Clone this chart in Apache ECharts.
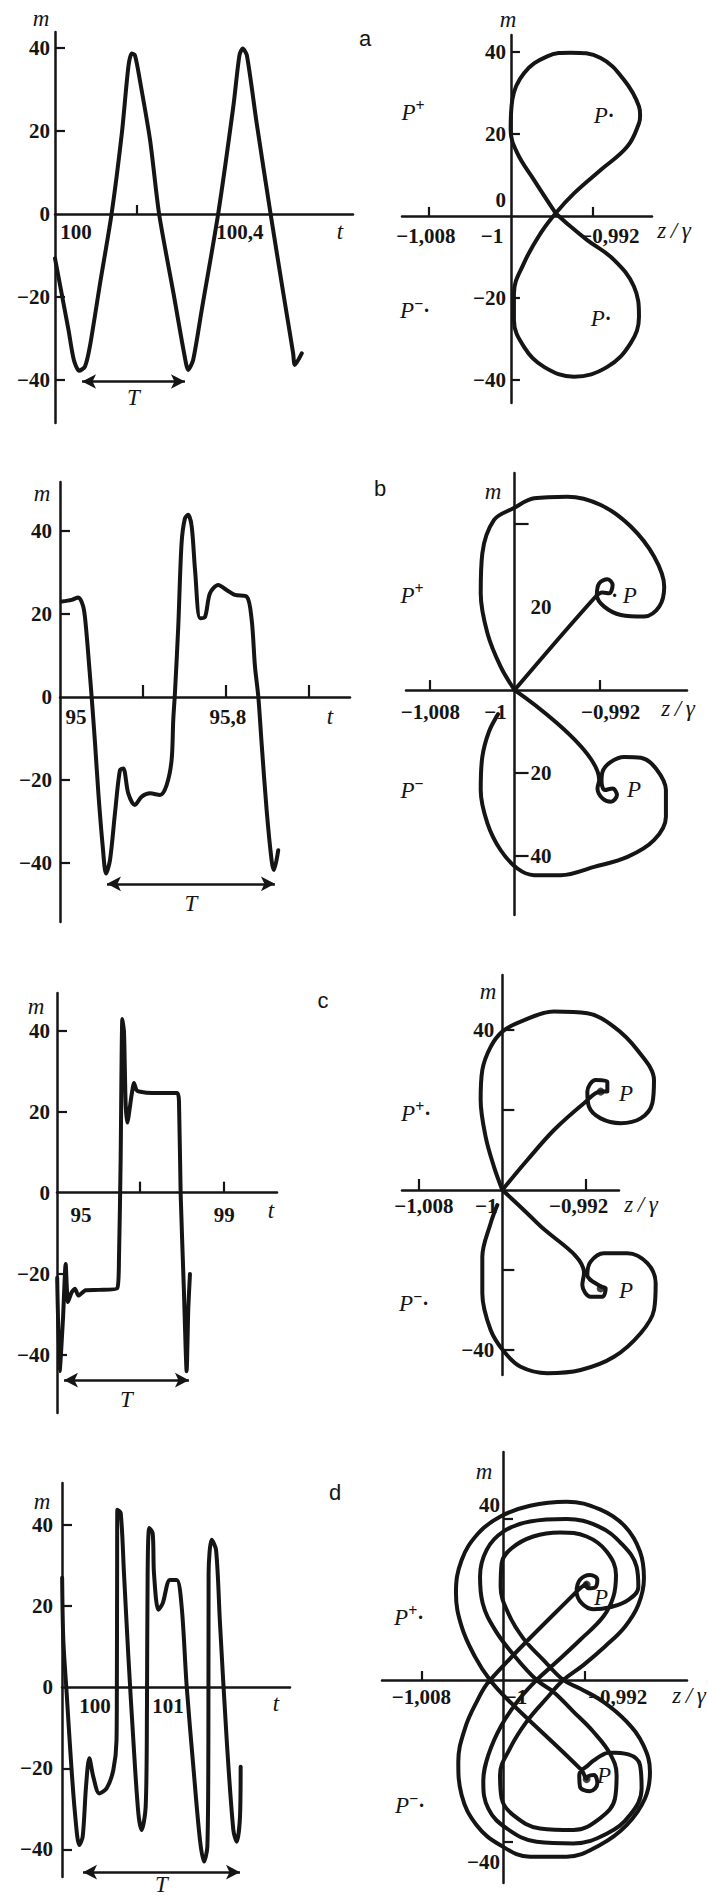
<!DOCTYPE html>
<html>
<head>
<meta charset="utf-8">
<title>m(t) and phase portraits m(z/γ)</title>
<script src="https://cdn.jsdelivr.net/npm/echarts@6.0.0/dist/echarts.min.js"></script>
<style>
html,body{margin:0;padding:0;background:#ffffff;}
#chart{width:708px;height:1896px;}
</style>
</head>
<body>
<div id="chart"></div>
<script>
// ================= DATA =================
// ---- panel a : m(t) ----
const tA = [100.000,100.016,100.033,100.046,100.059,100.073,100.085,100.110,100.138,100.163,100.179,100.187,100.195,100.207,100.232,100.254,100.289,100.315,100.325,100.337,100.358,100.398,100.435,100.450,100.458,100.468,100.492,100.526,100.557,100.581,100.585,100.602];
const mA = [-10.7,-19.1,-28.0,-35.2,-37.8,-36.8,-32.0,-16.7,0,19.4,35.5,38.7,38.3,32.3,17.8,0,-19.1,-33.6,-37.6,-35.2,-23.1,0,25.9,38.3,39.9,38.3,21.9,0,-19.1,-33.6,-36.4,-33.6];
// ---- panel a : m(z/γ) ----
const zAp = [-0.99564,-0.99776,-0.99938,-1.00003,-0.99987,-0.99873,-0.99646,-0.99418,-0.99125,-0.98898,-0.98751,-0.9874,-0.98751,-0.98865,-0.99125,-0.99385,-0.99564,-0.9971,-0.99873,-0.99971,-0.99971,-0.99873,-0.99678,-0.99385,-0.9906,-0.98832,-0.98751,-0.988,-0.98995,-0.99256,-0.99418,-0.99564];
const mAp = [0.66,8.8,15.3,21.0,28.3,34.8,38.9,39.8,38.5,33.2,26.7,24.5,22.6,16.9,11.2,5.5,0.66,-4.2,-11.5,-18.9,-25.4,-31.9,-36.8,-39.2,-36.8,-31.0,-24.6,-17.2,-10.7,-5.9,-2.6,0.66];

// ---- panel b : m(t) ----
const tB = [95.008,95.056,95.088,95.112,95.125,95.141,95.153,95.169,95.185,95.206,95.222,95.241,95.265,95.289,95.305,95.329,95.361,95.394,95.434,95.482,95.514,95.538,95.546,95.554,95.570,95.586,95.602,95.618,95.635,95.651,95.675,95.699,95.723,95.763,95.803,95.843,95.900,95.924,95.940,95.956,95.972,95.996,96.020,96.031,96.052];
const mB = [23,23.4,24,21.8,16.9,7.3,-0.3,-11.2,-23.2,-36,-42.5,-39.3,-28,-17.6,-17.2,-23.2,-26,-24,-23.2,-23.6,-21.2,-15.2,-5.5,0.9,16.9,37,43,43.9,41,30.6,19,19.3,25,27,25.8,24.6,24.2,18.6,7.3,0.1,-11.2,-27.2,-39.3,-41.7,-36.9];
// ---- panel b : m(z/γ), upper and lower branch ----
const zBup = [-1,-1.0013,-1.00255,-1.00318,-1.00303,-1.00193,-1.00011,-0.99817,-0.99503,-0.9919,-0.98908,-0.98688,-0.98594,-0.98641,-0.98782,-0.99001,-0.99158,-0.99227,-0.99205,-0.99127,-0.99079,-0.99111,-0.99174,-0.99246,-1];
const mBup = [0,5.6,13.7,23.3,32.9,41.0,43.8,46.2,46.6,44.6,39.4,32.1,24.9,20.1,17.7,18.1,20.1,22.9,25.7,26.7,25.3,23.3,23.5,22.3,0];
const zBdn = [-1,-0.99205,-0.99221,-0.99174,-0.99095,-0.99038,-0.99079,-0.99151,-0.99183,-0.99174,-0.99095,-0.9897,-0.98813,-0.98672,-0.98578,-0.98578,-0.98688,-0.98939,-0.99252,-0.99566,-0.99817,-0.99973,-1.0013,-1.00255,-1.00318,-1.00303,-1.0024,-1.00155];
const mBdn = [0,-21.7,-23.7,-26.1,-26.9,-25.3,-23.7,-24.1,-22.1,-19.7,-17.3,-16.1,-16.3,-18.9,-24.1,-30.5,-36.1,-40.2,-42.6,-44.6,-44.6,-43.0,-38.6,-32.1,-24.1,-16.1,-10.0,-5.8];

// ---- panel c : m(t) ----
const tC = [95.004,95.064,95.144,95.208,95.264,95.353,95.433,95.513,95.689,96.010,96.450,96.490,96.530,96.571,96.611,96.651,96.691,96.795,96.851,96.907,96.971,97.292,97.893,97.933,97.973,98.053,98.117,98.157,98.197];
const mC = [-21.0,-44.1,-31.1,-17.6,-27.0,-24.6,-23.7,-25.4,-24.1,-24.0,-23.6,-16.4,8.0,42.9,39.7,21.8,17.3,24.2,27.1,25.4,25.0,24.6,24.6,22.6,-0.2,-24.6,-44.1,-28.6,-20.1];
// ---- panel c : m(z/γ), upper and lower branch ----
const zCup = [-1,-1.0008,-1.0016,-1.00208,-1.00192,-1.00112,-1,-0.99824,-0.99504,-0.99184,-0.98928,-0.98704,-0.98544,-0.9856,-0.98672,-0.98864,-0.99056,-0.99168,-0.99184,-0.99104,-0.98992,-0.98992,-0.99056,-0.99216,-0.99504,-0.9976,-1];
const mCup = [0,5.8,13.3,22.5,30,35.8,39.6,42.1,44.6,44.2,40.8,35,27.5,21.7,17.9,16.7,17.9,20.8,24.6,27.5,27.1,24.6,24.6,21.7,15,7.5,0];
const zCdn = [-1,-0.99664,-0.99216,-0.99232,-0.99152,-0.9904,-0.99008,-0.99056,-0.99184,-0.99152,-0.99024,-0.988,-0.98608,-0.98528,-0.98544,-0.98672,-0.98928,-0.99248,-0.99568,-0.99824,-0.99984,-1.00112,-1.00192,-1.00192,-1.00112,-1.00048];
const mCdn = [0,-8.3,-20.8,-23.75,-26.7,-26.7,-24.6,-24.1,-21.25,-17.9,-15.8,-15.8,-18.3,-23.3,-30,-35.8,-41.7,-45,-45.8,-44.2,-40.4,-35,-25.8,-16.7,-8.3,-3.75];
// fixed points P (spiral centres) of panel c
const zFixC = [-0.99056, -0.99056];
const mFixC = [24.6, -24.6];

// ---- panel d : m(t) ----
const tD = [99.550,99.566,99.612,99.667,99.726,99.785,99.831,99.877,99.922,99.977,100.059,100.160,100.251,100.295,100.300,100.303,100.306,100.352,100.397,100.457,100.525,100.594,100.639,100.694,100.712,100.721,100.744,100.790,100.808,100.868,100.927,101.027,101.119,101.187,101.256,101.347,101.438,101.493,101.539,101.553,101.556,101.598,101.658,101.712,101.804,101.895,101.941,101.986,101.995];
const mD = [27.0,11.7,-1.5,-17.1,-31.1,-38.9,-36.9,-24.5,-17.5,-22.1,-26.2,-24.9,-20.4,-13.0,3.5,28.1,43.8,43.0,28.1,7.6,-13.0,-31.1,-35.2,-29.5,-4.8,28.1,39.3,38.0,28.1,19.1,20.7,26.5,26.5,19.9,0.2,-19.6,-37.7,-43.0,-39.3,-13.0,28.1,36.4,33.9,15.8,-13.0,-35.2,-38.1,-31.9,-19.6];
// ---- panel d : m(z/γ) ----
const zDp = [-0.99186,-0.99261,-1.00127,-1.00258,-1.00373,-1.00438,-1.00405,-1.00258,-1.00029,-0.99735,
 -0.99376,-0.99049,-0.98788,-0.98608,-0.98559,-0.98624,-0.98788,-0.99016,-0.99245,-0.99408,
 -0.99605,-0.99801,-0.99948,-1.00023,-1.00013,-0.99915,-0.99703,-0.99441,-0.9918,-0.98984,
 -0.98892,-0.98918,-0.99016,-0.99245,-0.99474,-0.9967,-0.99833,-1.00013,-1.00144,-1.00193,
 -1.00144,-0.99964,-0.9967,-0.9931,-0.98984,-0.98755,-0.98641,-0.98657,-0.98771,-0.98951,
 -0.99082,-0.99163,-0.99252,-0.99245,-0.99147,-0.99075,-0.99108,-0.99173,-0.9918,-0.99229,
 -0.99948,-1.00127,-1.00275,-1.00405,-1.00461,-1.00405,-1.00242,-1.00029,-0.99735,-0.99376,
 -0.99049,-0.98804,-0.98657,-0.98618,-0.98673,-0.98804,-0.99,-0.99212,-0.99408,-0.99572,
 -0.99768,-0.99931,-1.00029,-1.00013,-0.99899,-0.99637,-0.9931,-0.99049,-0.98902,-0.98886,
 -0.98951,-0.99114,-0.9931,-0.99507,-0.9967,-0.99882,-1.00078,-1.00199,-1.00225,-1.0016,
 -0.99997,-0.99735,-0.99376,-0.99065,-0.98837,-0.9869,-0.98673,-0.98771,-0.98951,-0.99114,
 -0.99229,-0.99278,-0.99245,-0.99147,-0.99075,-0.99098,-0.99163,-0.99186];
const mDp = [23.8,22.3,0,-5.4,-12.0,-20.2,-28.5,-35.9,-40.8,-43.7,
 -43.7,-40.8,-35.9,-29.3,-22.7,-16.1,-10.3,-5.4,-2.1,0,
 5.0,10.3,16.5,23.1,28.9,32.6,35.5,36.5,35.5,31.8,
 26.0,20.6,15.7,9.9,4.5,0,-4.5,-11.1,-18.6,-25.2,
 -31.8,-36.7,-40.0,-40.4,-38.0,-33.4,-26.8,-21.0,-18.4,-17.9,
 -19.4,-21.0,-23.5,-26.4,-27.5,-25.6,-23.5,-23.9,-24.5,-22.3,
 -5.0,0,5.8,13.2,21.5,29.7,36.3,40.4,43.1,44.1,
 42.2,38.0,31.8,25.2,18.6,13.2,8.3,3.7,0,-4.5,
 -10.3,-16.9,-23.5,-29.3,-33.4,-36.7,-37.1,-34.2,-29.3,-23.5,
 -18.2,-12.8,-7.8,-2.9,0,5.8,12.4,19.0,25.6,32.2,
 36.7,39.2,39.8,38.0,33.7,28.0,23.1,19.8,18.0,17.5,
 19.0,21.9,24.8,26.0,24.8,22.9,22.7,23.8];
// fixed points P (spiral centres) of panel d
const zFixD = [-0.9918, -0.9918];
const mFixD = [23.6, -24.5];

// ---- period arrows T : [t start, t end] and the m level ----
const periodA = [100.066, 100.317], periodLevelA = -40.4;
const periodB = [95.2265, 96.036],  periodLevelB = -45.0;
const periodC = [95.168, 98.173],   periodLevelC = -46.3;
const periodD = [99.836, 101.986],  periodLevelD = -45.6;

// ---- tick and label values ----
const tTicksA = [100.2, 100.4], tLabelsA = [100, 100.4];
const tTicksB = [95.4, 95.8, 96.2], tLabelsB = [95, 95.8];
const tTicksC = [97, 99], tLabelsC = [95, 99];
const tTicksD = [], tLabelsD = [100, 101];
const mTicks = [-40, -20, 20, 40];
const mLabels = [-40, -20, 0, 20, 40];
const zTicks = [-1.008, -0.992];
const zLabels = [-1.008, -1, -0.992];

// ================= CHART =================
const INK = '#151515';
const SERIF = '"Liberation Serif", "Times New Roman", Times, serif';
const SANS = '"Liberation Sans", Arial, Helvetica, sans-serif';
const NUM_SIZE = 21, NUM_WEIGHT = 'bold';

function pairs(xs, ys) { return xs.map((x, i) => [x, ys[i]]); }
// phase panels: horizontal coordinate = (z/γ + 1)·10³, labelled back in z/γ
function toX(z) { return Math.round((z + 1) * 1e6) / 1e3; }
function phasePairs(zs, ms) { return zs.map((z, i) => [toX(z), ms[i]]); }
function fmtNum(v) { return (v < 0 ? '\u2212' : '') + String(Math.abs(v)).replace('.', ','); }
function fmtZ(v) {
  const z = Math.round((-1 + v / 1000) * 1e6) / 1e6;
  if (Math.abs(z + 1) < 1e-9) return '\u22121';
  return '\u2212' + Math.abs(z).toFixed(3).replace('.', ',');
}

function labelCfg(values, textFn, shifts, base) {
  const rich = {};
  values.forEach((v, i) => {
    const s = shifts[i] || [0, 0];
    const dx = s[0], dy = s[1];
    rich['k' + i] = {
      fontFamily: SERIF, fontSize: NUM_SIZE, fontWeight: NUM_WEIGHT, color: INK,
      padding: [dy > 0 ? 2 * dy : 0, dx < 0 ? -2 * dx : 0, dy < 0 ? -2 * dy : 0, dx > 0 ? 2 * dx : 0]
    };
  });
  return Object.assign({
    customValues: values,
    formatter: function (v) {
      let i = values.findIndex(u => Math.abs(u - v) < 1e-6);
      if (i < 0) i = 0;
      return '{k' + i + '|' + textFn(v) + '}';
    },
    rich: rich, color: INK, fontFamily: SERIF, fontSize: NUM_SIZE, fontWeight: NUM_WEIGHT
  }, base || {});
}

function axisCommon(gi, min, max, tickVals, tickLen, label) {
  return {
    gridIndex: gi, type: 'value', min: min, max: max,
    axisLine: { show: true, onZero: false, lineStyle: { color: INK, width: 2.5 } },
    axisTick: { show: tickVals.length > 0, inside: true, length: tickLen, customValues: tickVals, lineStyle: { color: INK, width: 2.2 } },
    axisLabel: label,
    splitLine: { show: false }
  };
}
function hiddenAxis(gi, min, max) {
  return { gridIndex: gi, type: 'value', min: min, max: max, show: false,
    axisLine: { show: false }, axisTick: { show: false }, axisLabel: { show: false }, splitLine: { show: false } };
}

const grids = [
  { left: 55,  top: 32,   width: 298, height: 391 },
  { left: 402, top: 35,   width: 250, height: 368 },
  { left: 60,  top: 482,  width: 290, height: 440 },
  { left: 406, top: 473,  width: 281, height: 442 },
  { left: 57,  top: 993,  width: 220, height: 420 },
  { left: 402, top: 975,  width: 217, height: 400 },
  { left: 62,  top: 1483, width: 228, height: 394 },
  { left: 382, top: 1452, width: 305, height: 431 }
].map(g => Object.assign({ containLabel: false, outerBoundsMode: 'none' }, g));

const zT = zTicks.map(toX), zL = zLabels.map(toX);

const xAxes = [
  axisCommon(0, 100, 100.727, tTicksA, 9, labelCfg(tLabelsA, fmtNum, [[21, 0], [21, 0]], { margin: 7 })),
  axisCommon(1, -10.63, 13.76, zT, 9, labelCfg(zL, fmtZ, [[-3, 0], [-19, 0], [17, 0]], { margin: 10 })),
  axisCommon(2, 95, 96.398, tTicksB, 12, labelCfg(tLabelsB, fmtNum, [[16, 0], [2, 0]], { margin: 9 })),
  axisCommon(3, -10.2, 16.2, zT, 10, labelCfg(zL, fmtZ, [[1, 0], [-19, 0], [11, 0]], { margin: 11 })),
  axisCommon(4, 95, 100.29, tTicksC, 11, labelCfg(tLabelsC, fmtNum, [[24, 0], [1, 0]], { margin: 12 })),
  axisCommon(5, -9.63, 11.2, zT, 11, labelCfg(zL, fmtZ, [[5, 0], [-16, 0], [-7, 0]], { margin: 5 })),
  axisCommon(6, 99.548, 102.671, tTicksD, 9, labelCfg(tLabelsD, fmtNum, [], { margin: 8 })),
  axisCommon(7, -11.86, 18.04, zT, 9, labelCfg(zL, fmtZ, [[0, 0], [13, 0], [33, 0]], { margin: 6 }))
];

const yAxes = [
  axisCommon(0, -50.4, 43.9, mTicks, 10, labelCfg(mLabels, fmtNum, [], { margin: 5 })),
  axisCommon(1, -45.6, 44.1, mTicks, 9, labelCfg(mLabels, fmtNum, [[0, 0], [0, 0], [0, -16], [0, 0], [0, 0]], { margin: 5 })),
  axisCommon(2, -54.2, 51.8, mTicks, 10, labelCfg(mLabels, fmtNum, [], { margin: 8 })),
  axisCommon(3, -54.2, 52.3, [40, -20, -40], 14, labelCfg([20, -20, -40], v => String(Math.abs(v)), [], { margin: 16, inside: true })),
  axisCommon(4, -54.4, 49.3, mTicks, 10, labelCfg(mLabels, fmtNum, [], { margin: 7 })),
  axisCommon(5, -46.25, 53.75, mTicks, 12, labelCfg([-40, 40], fmtNum, [], { margin: 8 })),
  axisCommon(6, -46.8, 50.4, mTicks, 10, labelCfg(mLabels, fmtNum, [], { margin: 9 })),
  axisCommon(7, -50.2, 56.4, [-40, 40], 10, labelCfg([-40, 40], fmtNum, [[0, 20], [0, -13]], { margin: 3 }))
];

// place each t / z axis at m = 0, and each m axis of the phase panels at z/γ = −1
xAxes.forEach((ax, i) => {
  const y = yAxes[i];
  ax.offset = -((0 - y.min) / (y.max - y.min)) * grids[i].height;
});
[1, 3, 5, 7].forEach(i => {
  const x = xAxes[i];
  yAxes[i].offset = -((0 - x.min) / (x.max - x.min)) * grids[i].width;
});

// panel c phase curve reaches past the end of its z axis: draw it in an overlaid
// grid with the same scale but a wider horizontal range (axes hidden)
const cWideMax = 16;
const cScale = grids[5].width / (xAxes[5].max - xAxes[5].min);
grids.push(Object.assign({}, grids[5], { width: (cWideMax - xAxes[5].min) * cScale }));
xAxes.push(hiddenAxis(8, xAxes[5].min, cWideMax));
yAxes.push(hiddenAxis(8, yAxes[5].min, yAxes[5].max));

function curve(i, data, smooth) {
  return {
    type: 'line', xAxisIndex: i, yAxisIndex: i, data: data,
    symbol: 'none', smooth: smooth, silent: true, animation: false, z: 3, clip: false,
    lineStyle: { color: INK, width: 4, cap: 'round', join: 'round' }
  };
}
function fixedPoints(i, data) {
  return { type: 'scatter', xAxisIndex: i, yAxisIndex: i, data: data, symbol: 'circle', symbolSize: 8,
    silent: true, animation: false, z: 4, clip: false, itemStyle: { color: INK } };
}
function periodMark(range, level, dist) {
  return {
    silent: true, animation: false,
    symbol: ['arrow', 'arrow'], symbolSize: [11, 14],
    lineStyle: { color: INK, width: 2.6, type: 'solid' },
    label: { show: true, formatter: 'T', position: 'insideMiddleBottom', distance: dist,
      fontFamily: SERIF, fontStyle: 'italic', fontSize: 23, color: INK },
    emphasis: { disabled: true },
    data: [[{ coord: [range[0], level] }, { coord: [range[1], level] }]]
  };
}

const sA = curve(0, pairs(tA, mA), 0.25); sA.markLine = periodMark(periodA, periodLevelA, 4);
const sB = curve(2, pairs(tB, mB), 0.3);  sB.markLine = periodMark(periodB, periodLevelB, 8);
const sC = curve(4, pairs(tC, mC), 0.2);  sC.markLine = periodMark(periodC, periodLevelC, 8);
const sD = curve(6, pairs(tD, mD), 0.3);  sD.markLine = periodMark(periodD, periodLevelD, 1);

const series = [
  sA,
  curve(1, phasePairs(zAp, mAp), 0.4),
  sB,
  curve(3, phasePairs(zBup, mBup), 0.35),
  curve(3, phasePairs(zBdn, mBdn), 0.35),
  sC,
  curve(8, phasePairs(zCup, mCup), 0.35),
  curve(8, phasePairs(zCdn, mCdn), 0.35),
  fixedPoints(8, phasePairs(zFixC, mFixC)),
  sD,
  curve(7, phasePairs(zDp, mDp), 0.4),
  fixedPoints(7, phasePairs(zFixD, mFixD))
];

// ----- texts (axis names, panel letters, fixed-point labels) -----
function txt(text, x, y, font) {
  return { type: 'text', x: x, y: y, silent: true, z: 10,
    style: { text: text, font: font, fill: INK, align: 'center', verticalAlign: 'middle', textAlign: 'center', textVerticalAlign: 'middle' } };
}
function pLabel(sup, dotBefore, dotAfter, x, y) {
  const text = (dotBefore ? '{d|\u00b7 }' : '') + '{p|P}' + (sup ? '{s|' + sup + '}' : '') + (dotAfter ? '{d|\u00b7}' : '');
  return { type: 'text', x: x, y: y, silent: true, z: 10,
    style: { text: text, fill: INK, align: 'center', verticalAlign: 'middle', textAlign: 'center', textVerticalAlign: 'middle',
      rich: {
        p: { fontFamily: SERIF, fontStyle: 'italic', fontSize: 23, lineHeight: 30, fill: INK, color: INK },
        s: { fontFamily: SERIF, fontSize: 16, fontWeight: 'bold', lineHeight: 12, verticalAlign: 'top', fill: INK, color: INK },
        d: { fontFamily: SERIF, fontSize: 20, fontWeight: 'bold', lineHeight: 30, fill: INK, color: INK }
      } } };
}
const IT22 = 'italic 23px ' + SERIF;
const ZG = 'z\u2009/\u2009\u03b3';
const L22 = '22px ' + SANS;
const graphic = [
  txt('a', 365, 38, L22), txt('b', 380, 488, L22), txt('c', 323, 1000, L22), txt('d', 335, 1492, L22),
  txt('m', 41, 18, IT22), txt('m', 508, 19, IT22), txt('m', 42, 493, IT22), txt('m', 493, 491, IT22),
  txt('m', 36, 1006, IT22), txt('m', 488, 991, IT22), txt('m', 42, 1501, IT22), txt('m', 484, 1471, IT22),
  txt('t', 340, 231, IT22), txt('t', 330, 716, IT22), txt('t', 271, 1210, IT22), txt('t', 276, 1703, IT22),
  txt(ZG, 674, 230, IT22), txt(ZG, 678, 708, IT22), txt(ZG, 641, 1204, IT22), txt(ZG, 689, 1695, IT22),
  pLabel('+', false, false, 413, 112), pLabel('', false, true, 604, 115), pLabel('\u2212', false, true, 415, 310), pLabel('', false, true, 601, 318),
  pLabel('+', false, false, 412, 595), pLabel('', true, false, 624, 595), pLabel('\u2212', false, false, 412, 790), pLabel('', false, false, 634, 789),
  pLabel('+', false, true, 416, 1113), pLabel('', false, false, 626, 1093), pLabel('\u2212', false, true, 414, 1303), pLabel('', false, false, 626, 1290),
  pLabel('+', false, true, 409, 1617), pLabel('', false, false, 601, 1597), pLabel('\u2212', false, true, 410, 1805), pLabel('', false, false, 604, 1775)
];

const option = {
  backgroundColor: '#ffffff',
  animation: false,
  grid: grids,
  xAxis: xAxes,
  yAxis: yAxes,
  series: series,
  graphic: graphic
};

const chart = echarts.init(document.getElementById('chart'), null, { renderer: 'svg', width: 708, height: 1896 });
chart.setOption(option);
</script>
</body>
</html>
